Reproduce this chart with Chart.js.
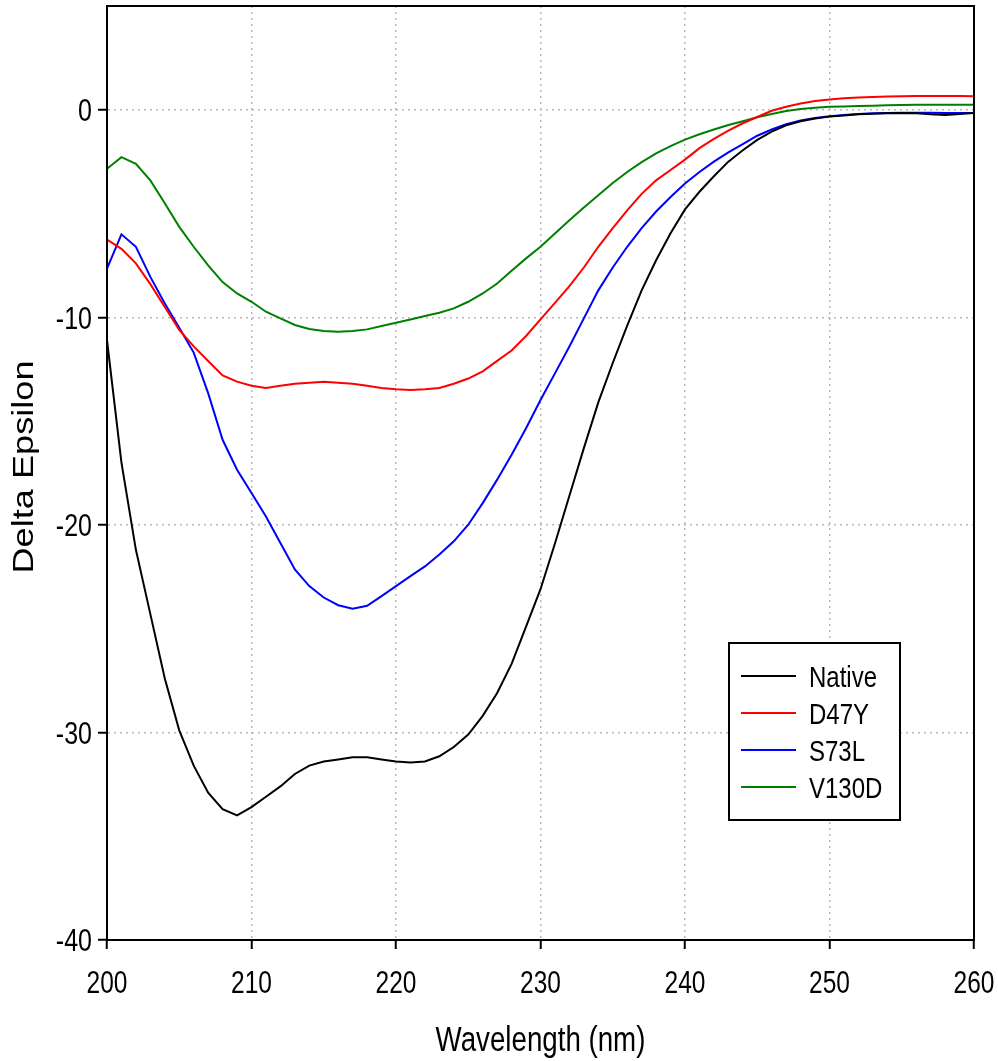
<!DOCTYPE html>
<html>
<head>
<meta charset="utf-8">
<title>CD spectra</title>
<script src="https://cdn.jsdelivr.net/npm/chart.js@4.4.1/dist/chart.umd.min.js"></script>
<style>
  html, body { margin: 0; padding: 0; background: #fff; }
  #wrap { width: 998px; height: 1061px; }
</style>
</head>
<body>
<div id="wrap"><canvas id="cd" width="998" height="1061"></canvas></div>
<script>
// wavelengths, 1 nm steps
const wavelengths = [
  200, 201, 202, 203, 204, 205, 206, 207, 208, 209,
  210, 211, 212, 213, 214, 215, 216, 217, 218, 219,
  220, 221, 222, 223, 224, 225, 226, 227, 228, 229,
  230, 231, 232, 233, 234, 235, 236, 237, 238, 239,
  240, 241, 242, 243, 244, 245, 246, 247, 248, 249,
  250, 251, 252, 253, 254, 255, 256, 257, 258, 259, 260
];

const nativeValues = [
  -11.1, -17.0, -21.2, -24.3, -27.4, -29.9, -31.6, -32.9, -33.7, -34.0,
  -33.6, -33.1, -32.6, -32.0, -31.6, -31.4, -31.3, -31.2, -31.2, -31.3,
  -31.4, -31.45, -31.4, -31.15, -30.7, -30.1, -29.2, -28.1, -26.7, -24.9,
  -23.1, -20.9, -18.6, -16.3, -14.1, -12.2, -10.4, -8.7, -7.25, -5.95,
  -4.8, -3.95, -3.2, -2.5, -1.95, -1.45, -1.05, -0.75, -0.55, -0.42,
  -0.33, -0.27, -0.22, -0.19, -0.17, -0.16, -0.17, -0.22, -0.25, -0.2, -0.15
];

const d47yValues = [
  -6.25, -6.7, -7.4, -8.4, -9.5, -10.6, -11.4, -12.1, -12.8, -13.1,
  -13.3, -13.4, -13.3, -13.2, -13.15, -13.1, -13.15, -13.2, -13.3, -13.4,
  -13.46, -13.5, -13.46, -13.4, -13.2, -12.95, -12.6, -12.1, -11.6, -10.9,
  -10.1, -9.3, -8.5, -7.6, -6.6, -5.7, -4.85, -4.05, -3.4, -2.9,
  -2.4, -1.85, -1.4, -1.0, -0.65, -0.35, -0.05, 0.15, 0.3, 0.42,
  0.5, 0.55, 0.59, 0.62, 0.64, 0.65, 0.66, 0.66, 0.66, 0.66, 0.65
];

const s73lValues = [
  -7.65, -6.0, -6.6, -8.05, -9.33, -10.5, -11.7, -13.65, -15.9, -17.34,
  -18.46, -19.6, -20.87, -22.15, -22.95, -23.5, -23.87, -24.04, -23.9, -23.43,
  -22.95, -22.47, -22.0, -21.43, -20.79, -19.99, -18.95, -17.82, -16.62, -15.34,
  -13.98, -12.7, -11.41, -10.05, -8.7, -7.6, -6.6, -5.7, -4.9, -4.2,
  -3.55, -3.0, -2.5, -2.05, -1.65, -1.25, -0.95, -0.7, -0.52, -0.4,
  -0.31, -0.25, -0.2, -0.17, -0.15, -0.14, -0.14, -0.14, -0.15, -0.15, -0.15
];

const v130dValues = [
  -2.84, -2.28, -2.6, -3.4, -4.5, -5.64, -6.6, -7.5, -8.3, -8.85,
  -9.25, -9.73, -10.05, -10.37, -10.56, -10.66, -10.69, -10.66, -10.58, -10.42,
  -10.26, -10.1, -9.94, -9.78, -9.57, -9.25, -8.85, -8.37, -7.76, -7.16,
  -6.6, -5.96, -5.32, -4.71, -4.12, -3.53, -3.0, -2.52, -2.1, -1.75,
  -1.44, -1.18, -0.95, -0.73, -0.55, -0.36, -0.2, -0.06, 0.04, 0.1,
  0.14, 0.16, 0.18, 0.2, 0.22, 0.23, 0.24, 0.24, 0.24, 0.24, 0.24
];

const seriesNames = ['Native', 'D47Y', 'S73L', 'V130D'];
const seriesColors = ['#000000', '#ff0000', '#0000ff', '#008000'];
const seriesValues = [nativeValues, d47yValues, s73lValues, v130dValues];

const xTicks = [200, 210, 220, 230, 240, 250, 260];
const yTicks = [-40, -30, -20, -10, 0];

const xTitle = 'Wavelength (nm)';
const yTitle = 'Delta Epsilon';

const fontFamily = "'Liberation Sans', Arial, sans-serif";
// the original figure's text is stretched vertically
const STRETCH = 1.26;

// draw text stretched vertically by STRETCH, baseline at (x, y)
function stretchedText(ctx, text, x, y, size, align) {
  ctx.save();
  ctx.translate(x, y);
  ctx.scale(1, STRETCH);
  ctx.font = size + 'px ' + fontFamily;
  ctx.textAlign = align;
  ctx.textBaseline = 'alphabetic';
  ctx.fillStyle = '#000';
  ctx.fillText(text, 0, 0);
  ctx.restore();
}

// Frame, tick labels, axis titles and legend
const framePlugin = {
  id: 'frame',
  afterDraw(chart) {
    const { ctx, chartArea: a } = chart;
    const xs = chart.scales.x;
    const ys = chart.scales.y;
    ctx.save();
    ctx.strokeStyle = '#000';
    ctx.lineWidth = 2;
    ctx.setLineDash([]);
    ctx.strokeRect(a.left, a.top, a.right - a.left, a.bottom - a.top);

    // tick labels
    xTicks.forEach(v => {
      stretchedText(ctx, String(v), xs.getPixelForValue(v), a.bottom + 53, 24.5, 'center');
    });
    yTicks.forEach(v => {
      stretchedText(ctx, String(v), a.left - 15, ys.getPixelForValue(v) + 11.3, 25, 'right');
    });

    // axis titles
    stretchedText(ctx, xTitle, (a.left + a.right) / 2, 1051, 27.7, 'center');
    ctx.save();
    ctx.translate(33, 467);
    ctx.rotate(-Math.PI / 2);
    ctx.scale(STRETCH, 1);
    ctx.font = '28.7px ' + fontFamily;
    ctx.textAlign = 'center';
    ctx.textBaseline = 'alphabetic';
    ctx.fillStyle = '#000';
    ctx.fillText(yTitle, 0, 0);
    ctx.restore();

    // legend box
    const boxX = a.left + 622;
    const boxY = a.top + 637;
    const boxW = 171;
    const boxH = 177;
    ctx.fillStyle = '#fff';
    ctx.fillRect(boxX, boxY, boxW, boxH);
    ctx.strokeStyle = '#000';
    ctx.lineWidth = 2;
    ctx.strokeRect(boxX, boxY, boxW, boxH);

    chart.data.datasets.forEach((ds, i) => {
      const y = boxY + 33 + i * 37;
      ctx.strokeStyle = ds.borderColor;
      ctx.lineWidth = 2;
      ctx.beginPath();
      ctx.moveTo(boxX + 12, y);
      ctx.lineTo(boxX + 67, y);
      ctx.stroke();
      stretchedText(ctx, ds.label, boxX + 80, y + 11, 24, 'left');
    });
    ctx.restore();
  }
};

const datasets = seriesNames.map((name, i) => ({
  label: name,
  data: wavelengths.map((w, j) => ({ x: w, y: seriesValues[i][j] })),
  borderColor: seriesColors[i],
  backgroundColor: seriesColors[i],
  borderWidth: 2,
  pointRadius: 0,
  tension: 0,
  fill: false
}));

const gridOpts = {
  color: '#b8b8b8',
  lineWidth: 1.5,
  tickColor: '#000',
  tickLength: 9,
  tickWidth: 2,
  tickBorderDash: []
};

new Chart(document.getElementById('cd'), {
  type: 'line',
  data: { datasets },
  plugins: [framePlugin],
  options: {
    responsive: false,
    animation: false,
    devicePixelRatio: 1,
    layout: { padding: { top: 6, right: 24, left: 0, bottom: 0 } },
    plugins: {
      legend: { display: false },
      tooltip: { enabled: false },
      title: { display: false }
    },
    scales: {
      x: {
        type: 'linear',
        min: 200,
        max: 260,
        afterBuildTicks: axis => { axis.ticks = xTicks.map(v => ({ value: v })); },
        afterFit: axis => { axis.height = 121; },
        ticks: { display: false },
        grid: gridOpts,
        border: { color: '#000', width: 2, dash: [2, 4] },
        title: { display: false }
      },
      y: {
        type: 'linear',
        min: -40,
        max: 5,
        afterBuildTicks: axis => { axis.ticks = yTicks.map(v => ({ value: v })); },
        afterFit: axis => { axis.width = 107; },
        ticks: { display: false },
        grid: gridOpts,
        border: { color: '#000', width: 2, dash: [2, 4] },
        title: { display: false }
      }
    }
  }
});
</script>
</body>
</html>
